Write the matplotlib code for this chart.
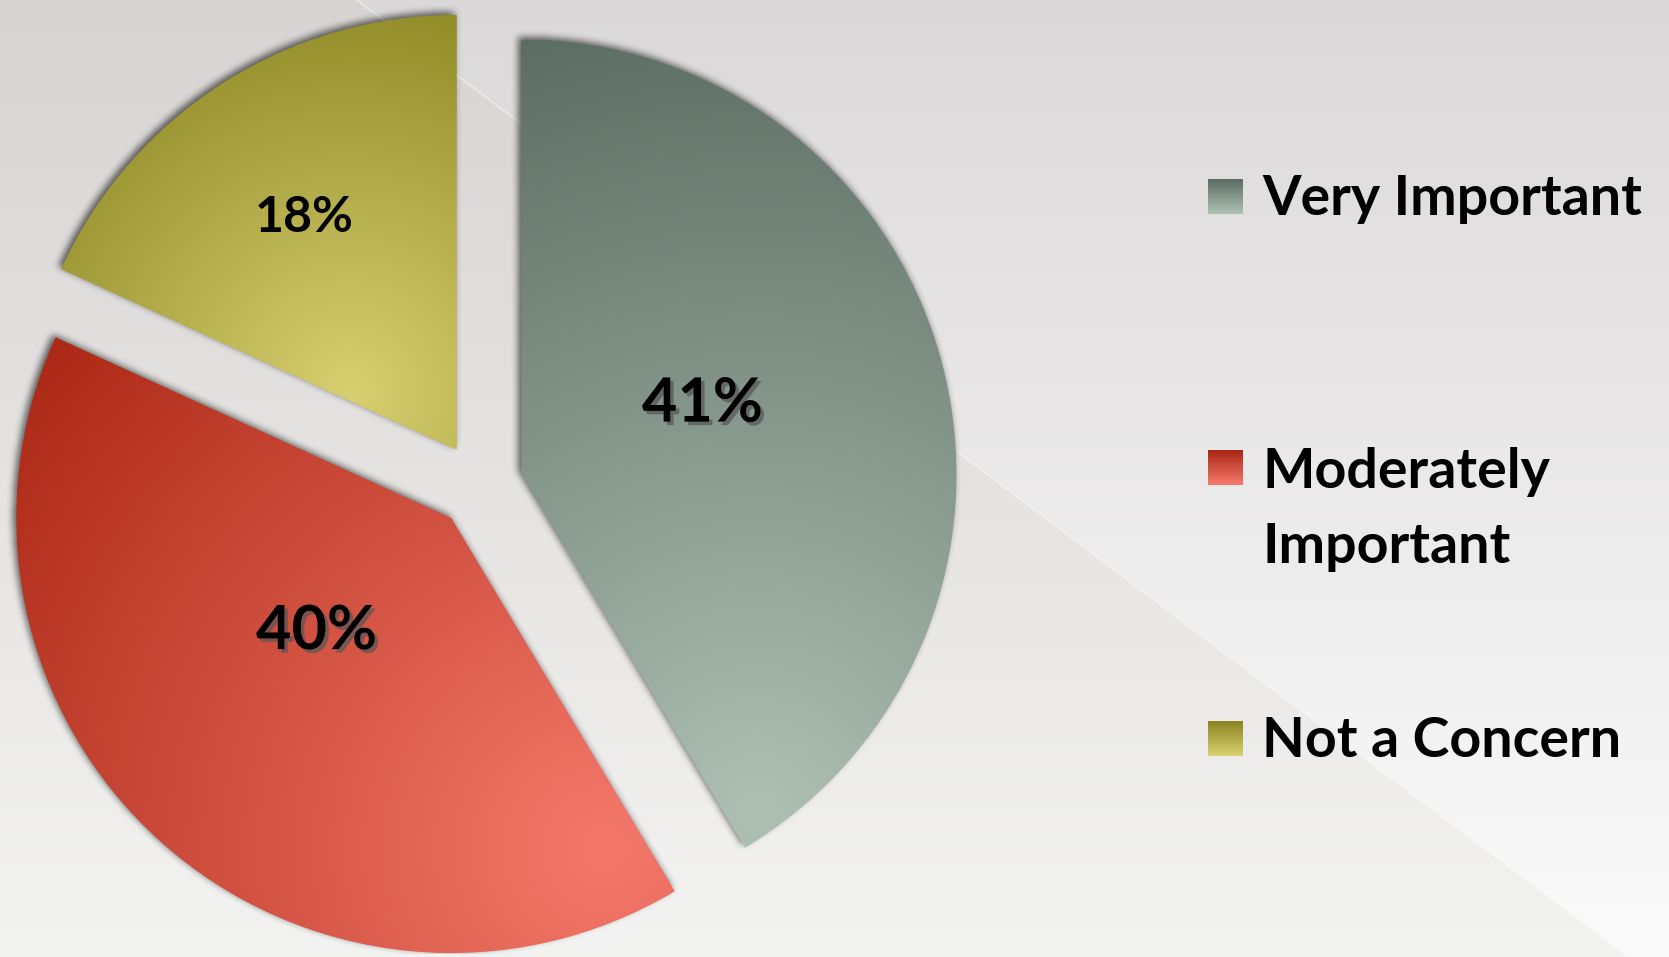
import numpy as np
import matplotlib
matplotlib.use("Agg")
import matplotlib.pyplot as plt
import matplotlib.patheffects as pe
from matplotlib.colors import to_rgb

# data
categories = ["Very Important", "Moderately\nImportant", "Not a Concern"]
values = [41, 40, 18]

# styling
light = ["#afc0b5", "#f5796b", "#d8d070"]
dark = ["#5c6e63", "#ab2714", "#8a8421"]
# gradient focus per slice: angle (deg), distance from apex (radii), reach (radii)
focus = [(-55, 0.95, 1.86), (-65, 0.84, 1.77), (152, 0.28, 1.0)]
label_off = [(0.416, 0.163), (-0.31, -0.26), (-0.35, 0.535)]
label_size = [44, 44, 36]
label_shadow = [True, True, False]
FONT = ["Lato", "DejaVu Sans"]

W, H = 1669, 957
fig = plt.figure(figsize=(W / 100, H / 100), dpi=100)
ax = fig.add_axes([0, 0, 1, 1])

# background: vertical grey->white gradient split by a diagonal
yy, xx = np.mgrid[0:H, 0:W] + 0.5
s = (1 - yy / H)[..., None]
right_bg = (1 - s) * np.array(to_rgb("#dbd8d9")) + s * np.array(to_rgb("#fbfbfb"))
left_bg = (1 - s) * np.array(to_rgb("#d7d4d3")) + s * np.array(to_rgb("#f3f3f1"))
cross = 1272 * (yy - 957) + 957 * (xx - 356.6)
bg = np.where((cross < 0)[..., None], left_bg, right_bg)
ax.imshow(bg, extent=(0, W, 0, H), origin="lower", zorder=0)
ax.plot([356.6, 1628.6], [957, 0], color="white", lw=1, alpha=0.5, zorder=0.5)

wedges, texts, autotexts = ax.pie(
    values, explode=[43] * 3, radius=435, center=(480, 471), startangle=90,
    counterclock=False, autopct="%.0f%%", pctdistance=0.5,
    wedgeprops=dict(linewidth=0))


def box_blur(a, r):
    k = 2 * r + 1
    for axis in (0, 1):
        pad = [(0, 0), (0, 0)]
        pad[axis] = (r + 1, r)
        p = np.pad(a, pad, mode="edge")
        c = np.cumsum(p, axis=axis)
        if axis == 0:
            a = (c[k:] - c[:-k]) / k
        else:
            a = (c[:, k:] - c[:, :-k]) / k
    return a


# soft shadow under the slices
mask = np.zeros((H, W))
pts = np.column_stack([xx.ravel(), yy.ravel()])
for w in wedges:
    mask = np.maximum(mask, w.get_path().contains_points(pts).reshape(H, W))
sh = mask
for _ in range(3):
    sh = box_blur(sh, 3)
sh = np.roll(np.roll(sh, -3, axis=1), 3, axis=0)
shadow = np.zeros((H, W, 4))
shadow[..., 3] = sh * 0.6
ax.imshow(shadow, extent=(0, W, 0, H), origin="lower", zorder=1)

# gradient fills clipped to each slice
for w, lc, dc, (ang, fd, reach) in zip(wedges, light, dark, focus):
    cx, cy = w.center
    r = w.r
    fx = cx + fd * r * np.cos(np.radians(ang))
    fy = cy + fd * r * np.sin(np.radians(ang))
    n = int(2 * r)
    gx, gy = np.meshgrid(np.linspace(cx - r, cx + r, n), np.linspace(cy - r, cy + r, n))
    t = np.clip(np.hypot(gx - fx, gy - fy) / (reach * r), 0, 1)[..., None]
    img = (1 - t) * np.array(to_rgb(lc)) + t * np.array(to_rgb(dc))
    im = ax.imshow(img, extent=(cx - r, cx + r, cy - r, cy + r), origin="lower",
                   zorder=2, interpolation="bilinear")
    im.set_clip_path(w)
    w.set_facecolor("none")
    w.set_edgecolor("none")

for w, t, (dx, dy), fs, shd in zip(wedges, autotexts, label_off, label_size, label_shadow):
    cx, cy = w.center
    t.set_position((cx + dx * w.r, cy + dy * w.r))
    t.set(ha="center", va="center", fontsize=fs, fontweight="bold", family=FONT,
          color="black", zorder=5)
    if shd:
        t.set_path_effects([pe.withSimplePatchShadow(offset=(2.5, -2.5),
                                                     shadow_rgbFace="#555555", alpha=0.7)])

# legend (marker lines up with the first line of each label)
leg_top, leg_step, line_gap = 742, 271, 77
for i, (lab, lc, dc) in enumerate(zip(categories, light, dark)):
    yb = leg_top - i * leg_step
    grad = np.linspace(0, 1, 32)[:, None, None]
    sq = grad * np.array(to_rgb(dc)) + (1 - grad) * np.array(to_rgb(lc))
    ax.imshow(sq, extent=(1208, 1243, yb + 1, yb + 36), origin="lower", zorder=4)
    nl = lab.count("\n")
    ax.text(1262, yb - nl * line_gap, lab, ha="left", va="baseline", fontsize=40,
            fontweight="bold", family=FONT, linespacing=1.6, zorder=5)

ax.set_xlim(0, W)
ax.set_ylim(0, H)
ax.set_aspect("equal")
ax.set_axis_off()
fig.savefig("out.png", dpi=100)
